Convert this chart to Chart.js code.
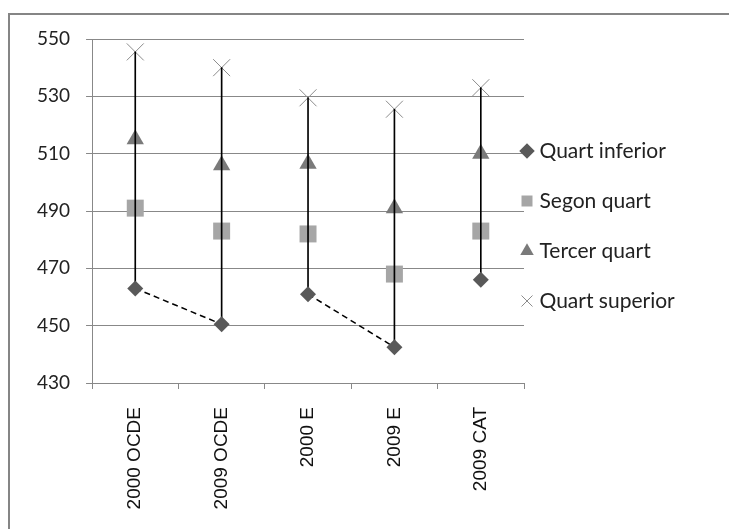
<!DOCTYPE html>
<html>
<head>
<meta charset="utf-8">
<script src="https://cdn.jsdelivr.net/npm/chart.js@4/dist/chart.umd.min.js"></script>
<style>
  html, body { margin: 0; padding: 0; background: #fff; }
  #wrap { width: 729px; height: 529px; }
</style>
</head>
<body>
<div id="wrap"><canvas id="quartChart" width="729" height="529"></canvas></div>
<script>
// PISA quartile scores per group
const categories = ['2000 OCDE', '2009 OCDE', '2000 E', '2009 E', '2009 CAT'];
const quartInferior = [463, 450.5, 461, 442.5, 466];
const segonQuart = [491, 483, 482, 468, 483];
const tercerQuart = [515, 506, 506.5, 491, 510];
const quartSuperior = [545.5, 540, 529.5, 525.5, 533];
const yTicks = [430, 450, 470, 490, 510, 530, 550];
// pairs of groups joined by a dashed line on the lower quartile
const trendPairs = [[0, 1], [2, 3]];

const gridColor = '#888888';

// outer frame, only top and left edges fall inside the canvas
const framePlugin = {
    id: 'frame',
    beforeDraw(chart) {
        const ctx = chart.ctx;
        ctx.save();
        ctx.fillStyle = '#fff';
        ctx.fillRect(0, 0, chart.width, chart.height);
        ctx.fillStyle = '#858585';
        ctx.fillRect(8, 13, chart.width, 2);
        ctx.fillRect(8, 13, 2, chart.height);
        ctx.restore();
    }
};

// legend padding sets the row spacing, pull the block back next to the plot
const legendShift = {
    id: 'legendShift',
    afterLayout(chart) {
        const lg = chart.legend;
        lg.left -= 28; lg.right -= 28;
        lg.top -= 58; lg.bottom -= 58;
    }
};

const trendSets = trendPairs.map(pair => ({
    type: 'line',
    data: quartInferior.map((v, i) => pair.includes(i) ? v : null),
    borderColor: '#000',
    borderWidth: 1.5,
    borderDash: [6, 4],
    pointRadius: 0,
    spanGaps: false,
    order: 2
}));

const ctx = document.getElementById('quartChart').getContext('2d');
window.myChart = new Chart(ctx, {
    type: 'bar',
    data: {
        labels: categories,
        datasets: [
            {
                type: 'line',
                label: 'Quart inferior',
                data: quartInferior,
                showLine: false,
                pointStyle: 'rectRot',
                pointRadius: 8,
                backgroundColor: '#595959',
                borderColor: '#595959',
                borderWidth: 0,
                order: 1
            },
            {
                type: 'line',
                label: 'Segon quart',
                data: segonQuart,
                showLine: false,
                pointStyle: 'rect',
                pointRadius: 12,
                backgroundColor: '#a6a6a6',
                borderColor: '#a6a6a6',
                borderWidth: 0,
                order: 3
            },
            {
                type: 'line',
                label: 'Tercer quart',
                data: tercerQuart,
                showLine: false,
                pointStyle: 'triangle',
                pointRadius: 10,
                backgroundColor: '#7a7a7a',
                borderColor: '#7a7a7a',
                borderWidth: 0,
                order: 3
            },
            {
                type: 'line',
                label: 'Quart superior',
                data: quartSuperior,
                showLine: false,
                pointStyle: 'crossRot',
                pointRadius: 12,
                backgroundColor: '#8c8c8c',
                borderColor: '#8c8c8c',
                borderWidth: 1,
                order: 3
            },
            // high-low line from lower to upper quartile
            {
                type: 'bar',
                label: 'rang',
                data: quartInferior.map((v, i) => [v, quartSuperior[i]]),
                backgroundColor: '#000',
                barThickness: 1,
                order: 2
            },
            ...trendSets
        ]
    },
    options: {
        responsive: false,
        animation: false,
        layout: { padding: { top: 39, left: 21, right: 25, bottom: 0 } },
        plugins: {
            tooltip: { enabled: false },
            legend: {
                position: 'right',
                maxWidth: 180,
                labels: {
                    filter: item => item.datasetIndex < 4,
                    usePointStyle: true,
                    boxWidth: 4,
                    boxHeight: 11,
                    padding: 29,
                    color: '#222',
                    font: { family: 'Lato', size: 21 }
                }
            }
        },
        scales: {
            x: {
                afterFit: axis => { axis.height = 146; },
                grid: {
                    display: true,
                    drawOnChartArea: false,
                    drawTicks: true,
                    tickLength: 6,
                    color: gridColor,
                    offset: true
                },
                border: { color: gridColor },
                ticks: {
                    minRotation: 90,
                    maxRotation: 90,
                    padding: 18,
                    color: '#111',
                    font: { family: 'Liberation Sans', size: 19 }
                }
            },
            y: {
                min: yTicks[0],
                max: yTicks[yTicks.length - 1],
                afterBuildTicks: axis => { axis.ticks = yTicks.map(v => ({ value: v })); },
                grid: { color: gridColor, tickLength: 6 },
                border: { color: gridColor },
                ticks: {
                    padding: 16,
                    color: '#222',
                    font: { family: 'Lato', size: 19 }
                }
            }
        }
    },
    plugins: [framePlugin, legendShift]
});
</script>
</body>
</html>
